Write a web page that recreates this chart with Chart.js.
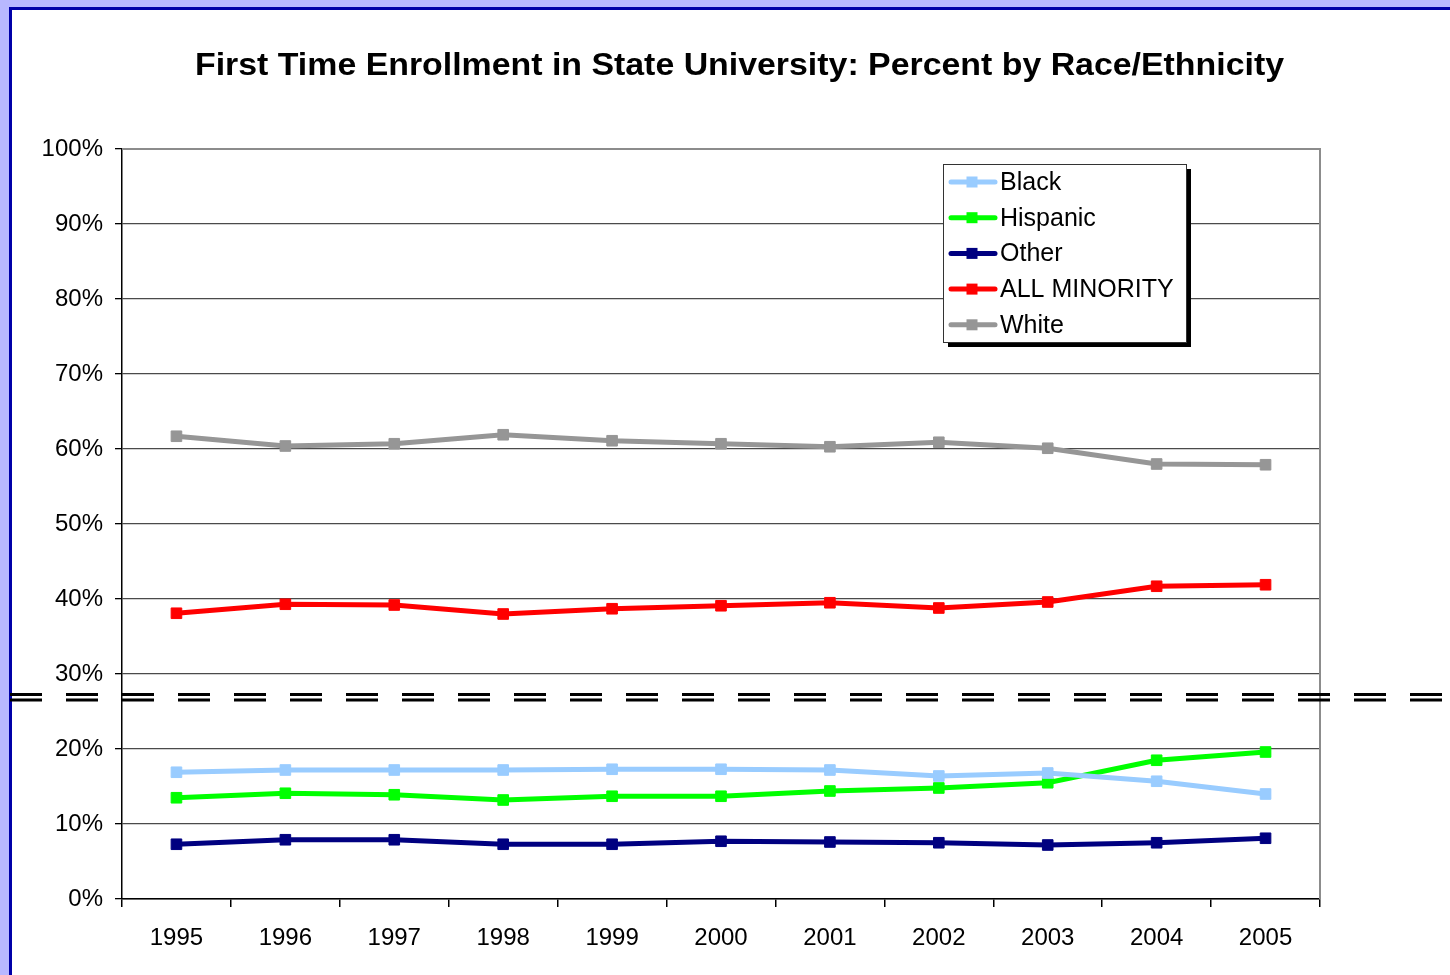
<!DOCTYPE html>
<html>
<head>
<meta charset="utf-8">
<script src="https://cdn.jsdelivr.net/npm/chart.js@4.4.1/dist/chart.umd.min.js"></script>
<style>
  html, body { margin: 0; padding: 0; width: 1450px; height: 975px; overflow: hidden; background: #b8b8ff; }
  #panel { position: absolute; left: 9px; top: 7px; width: 1500px; height: 1000px; border: 3px solid #0000a8; background: #ffffff; }
  #c { position: absolute; left: 0; top: 0; }
</style>
</head>
<body>
<div id="panel"></div>
<canvas id="c" width="1450" height="975"></canvas>
<script>
const titleText = 'First Time Enrollment in State University: Percent by Race/Ethnicity';
const years = ['1995','1996','1997','1998','1999','2000','2001','2002','2003','2004','2005'];
const black    = [16.9, 17.2, 17.2, 17.2, 17.3, 17.3, 17.2, 16.4, 16.8, 15.7, 14.0];
const hispanic = [13.5, 14.1, 13.9, 13.2, 13.7, 13.7, 14.4, 14.8, 15.5, 18.5, 19.6];
const other    = [7.3, 7.9, 7.9, 7.3, 7.3, 7.7, 7.6, 7.5, 7.2, 7.5, 8.1];
const minority = [38.1, 39.3, 39.2, 38.0, 38.7, 39.1, 39.5, 38.8, 39.6, 41.7, 41.9];
const white    = [61.7, 60.4, 60.7, 61.9, 61.1, 60.7, 60.3, 60.9, 60.1, 58.0, 57.9];
const seriesLabels = ['Black', 'Hispanic', 'Other', 'ALL MINORITY', 'White'];
const seriesColors = ['#99ccff', '#00ff00', '#000080', '#ff0000', '#969696'];
const yTicks = [0, 10, 20, 30, 40, 50, 60, 70, 80, 90, 100];
const breakValue = 26.9;

const FONT = '"Liberation Sans", Arial, sans-serif';

function ds(label, data, color) {
  return {
    label, data,
    borderColor: color, backgroundColor: color,
    borderWidth: 5, tension: 0,
    pointStyle: 'rect', pointRadius: 7.5, pointBorderWidth: 1,
    pointBackgroundColor: color, pointBorderColor: color,
    pointHoverRadius: 7.5
  };
}
const allData = [black, hispanic, other, minority, white];

const decor = {
  id: 'decor',
  beforeDatasetsDraw(chart) {
    const { ctx, chartArea: a } = chart;
    ctx.save();
    ctx.strokeStyle = '#8c8c8c';
    ctx.lineWidth = 2;
    ctx.beginPath();
    ctx.moveTo(a.left, a.top); ctx.lineTo(a.right, a.top); ctx.lineTo(a.right, a.bottom);
    ctx.stroke();
    ctx.restore();
  },
  afterDraw(chart) {
    const { ctx, chartArea: a } = chart;
    const y = chart.scales.y;
    // title (stretched horizontally like the original)
    ctx.save();
    ctx.fillStyle = '#000';
    ctx.font = 'bold 31px ' + FONT;
    ctx.textAlign = 'center';
    ctx.textBaseline = 'middle';
    const tw = ctx.measureText(titleText).width;
    const sx = 1089 / tw;
    ctx.translate(739.5, 66);
    ctx.scale(sx, 1);
    ctx.fillText(titleText, 0, 0);
    ctx.restore();

    // broken-axis double dashed line
    const yb = y.getPixelForValue(breakValue);
    ctx.save();
    ctx.strokeStyle = '#000';
    ctx.lineWidth = 3;
    ctx.setLineDash([32, 24]);
    [yb - 2.75, yb + 2.75].forEach(yy => {
      ctx.beginPath();
      ctx.moveTo(10, yy); ctx.lineTo(1450, yy);
      ctx.stroke();
    });
    ctx.restore();

    // legend
    const lx = a.right - 377, ly = a.top + 15, lw = 243, lh = 178;
    ctx.save();
    ctx.fillStyle = '#000';
    ctx.fillRect(lx + 5, ly + 5, lw, lh);
    ctx.fillStyle = '#fff';
    ctx.fillRect(lx, ly, lw, lh);
    ctx.strokeStyle = '#333';
    ctx.lineWidth = 1;
    ctx.strokeRect(lx + 0.5, ly + 0.5, lw, lh);
    ctx.font = '25px ' + FONT;
    ctx.textBaseline = 'middle';
    ctx.textAlign = 'left';
    chart.data.datasets.forEach((d, i) => {
      const cy = ly + 18 + i * 35.7;
      ctx.strokeStyle = d.borderColor;
      ctx.lineWidth = 5;
      ctx.lineCap = 'round';
      ctx.beginPath();
      ctx.moveTo(lx + 8, cy); ctx.lineTo(lx + 52, cy);
      ctx.stroke();
      ctx.fillStyle = d.borderColor;
      ctx.fillRect(lx + 29 - 5.5, cy - 5.5, 11, 11);
      ctx.fillStyle = '#000';
      ctx.fillText(d.label, lx + 57, cy + 1);
    });
    ctx.restore();
  }
};

new Chart(document.getElementById('c'), {
  type: 'line',
  data: {
    labels: years,
    datasets: seriesLabels.map((l, i) => ds(l, allData[i], seriesColors[i]))
  },
  options: {
    responsive: false,
    animation: false,
    devicePixelRatio: 1,
    layout: { padding: { left: 10, right: 130, top: 149, bottom: 0 } },
    plugins: { legend: { display: false }, title: { display: false }, tooltip: { enabled: false } },
    scales: {
      x: {
        offset: true,
        grid: { offset: true, drawOnChartArea: false, drawTicks: true, tickLength: 8, color: '#000', lineWidth: 1.5 },
        border: { display: true, color: '#000', width: 1.5 },
        ticks: { color: '#000', font: { family: FONT, size: 24 }, padding: 17, maxRotation: 0 },
        afterFit(s) { s.height = 76; }
      },
      y: {
        min: 0, max: 100,
        afterBuildTicks(s) { s.ticks = yTicks.map(v => ({ value: v })); },
        grid: { color: '#4a4a4a', lineWidth: 1.3, drawTicks: true, tickLength: 7, tickColor: '#000' },
        border: { display: true, color: '#000', width: 1.5 },
        ticks: { color: '#000', font: { family: FONT, size: 24 }, padding: 12, callback: v => v + '%' },
        afterFit(s) { s.width = 112; }
      }
    }
  },
  plugins: [decor]
});
</script>
</body>
</html>
